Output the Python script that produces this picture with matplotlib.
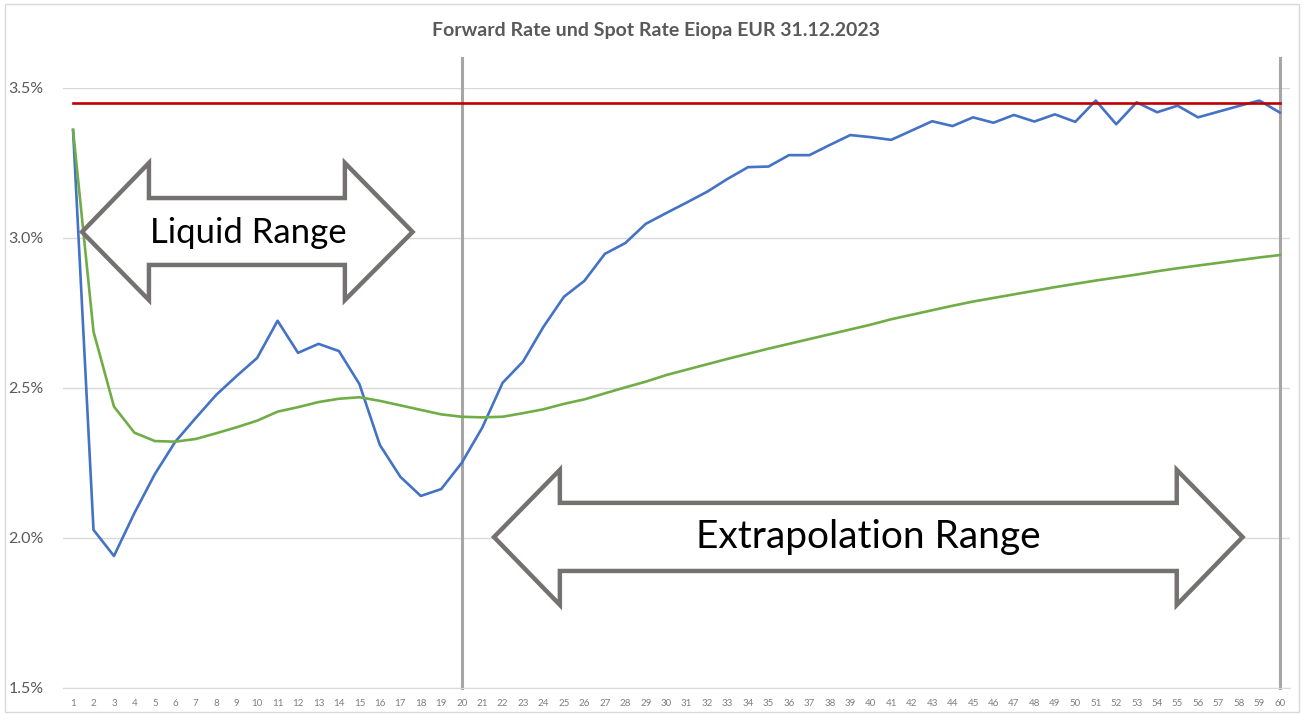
import numpy as np
import matplotlib.pyplot as plt
from matplotlib.patches import Polygon, Rectangle

plt.rcParams['font.family'] = ['Lato', 'DejaVu Sans']

# Laufzeiten 1..60 Jahre
jahre = list(range(1, 61))

# Forward Rate in %
forward = [3.360, 2.027, 1.940, 2.083, 2.213, 2.321, 2.400, 2.477, 2.540, 2.600,
           2.724, 2.617, 2.647, 2.623, 2.513, 2.310, 2.204, 2.140, 2.163, 2.250,
           2.367, 2.517, 2.588, 2.704, 2.804, 2.857, 2.947, 2.983, 3.047, 3.083,
           3.118, 3.154, 3.197, 3.236, 3.238, 3.276, 3.276, 3.310, 3.343, 3.336,
           3.327, 3.358, 3.389, 3.373, 3.402, 3.384, 3.410, 3.388, 3.412, 3.387,
           3.458, 3.379, 3.452, 3.419, 3.441, 3.402, 3.421, 3.440, 3.458, 3.418]

# Spot Rate in %
spot = [3.360, 2.688, 2.438, 2.351, 2.323, 2.321, 2.330, 2.349, 2.369, 2.391,
        2.421, 2.436, 2.453, 2.464, 2.469, 2.457, 2.442, 2.427, 2.412, 2.404,
        2.402, 2.404, 2.416, 2.429, 2.447, 2.462, 2.482, 2.502, 2.521, 2.543,
        2.561, 2.579, 2.597, 2.614, 2.631, 2.647, 2.663, 2.679, 2.695, 2.711,
        2.729, 2.744, 2.759, 2.774, 2.788, 2.800, 2.812, 2.824, 2.836, 2.847,
        2.858, 2.868, 2.878, 2.889, 2.899, 2.908, 2.917, 2.926, 2.935, 2.943]

# Ultimate Forward Rate
ufr = 3.45
llp = 20
konvergenz = 60

y_ticks = [1.5, 2.0, 2.5, 3.0, 3.5]
titel = 'Forward Rate und Spot Rate Eiopa EUR 31.12.2023'

fig = plt.figure(figsize=(13.06, 7.15), dpi=100)
ax = fig.add_axes([0.0481, 0.0378, 0.9397, 0.8392])

ax.plot(jahre, forward, color='#4472C4', lw=1.9, zorder=3)
ax.plot(jahre, spot, color='#70AD47', lw=1.9, zorder=3)
ax.plot([jahre[0], jahre[-1]], [ufr, ufr], color='#C00000', lw=1.9, zorder=3)

# senkrechte Linien bei LLP und Konvergenzpunkt
for xv in [llp, konvergenz]:
    ax.plot([xv, xv], [1.5, 3.6], color='#A6A6A6', lw=2.2, clip_on=False, zorder=2)

ax.set_xlim(0.5, 60.5)
ax.set_ylim(1.5, 3.5)
ax.set_xticks(jahre)
ax.set_xticklabels([str(j) for j in jahre], fontsize=7, color='#7F7F7F')
ax.set_yticks(y_ticks)
ax.set_yticklabels(['%.1f%%' % v for v in y_ticks], fontsize=11.5, color='#595959')
ax.tick_params(length=0, pad=8)
ax.tick_params(axis='y', pad=14)
ax.grid(axis='y', color='#D9D9D9', lw=1)
ax.set_axisbelow(True)
for s in ['top', 'right', 'left']:
    ax.spines[s].set_visible(False)
ax.spines['bottom'].set_color('#D9D9D9')

fig.text(0.502, 0.958, titel, ha='center', va='center', fontsize=14,
         color='#595959', fontweight='bold')


def doppelpfeil(x0, xk0, xk1, x1, ym, ykopf_o, ykopf_u, ys_o, ys_u):
    pts = [(x0, ym), (xk0, ykopf_o), (xk0, ys_o), (xk1, ys_o), (xk1, ykopf_o),
           (x1, ym), (xk1, ykopf_u), (xk1, ys_u), (xk0, ys_u), (xk0, ykopf_u)]
    p = Polygon(pts, closed=True, facecolor='white', edgecolor='#767171',
                lw=3.2, zorder=4, joinstyle='miter')
    ax.add_patch(p)


doppelpfeil(1.44, 4.71, 14.29, 17.60, 3.02, 3.25, 2.793, 3.133, 2.91)
ax.text(9.55, 3.018, 'Liquid Range', ha='center', va='center', fontsize=25,
        color='black', zorder=5)

doppelpfeil(21.58, 24.80, 54.96, 58.18, 2.003, 2.227, 1.777, 2.117, 1.89)
ax.text(39.9, 2.003, 'Extrapolation Range', ha='center', va='center',
        fontsize=28, color='black', zorder=5)

# Rahmen um das Diagramm
fig.patches.append(Rectangle((0.004, 0.004), 0.991, 0.99, transform=fig.transFigure,
                             fill=False, edgecolor='#D9D9D9', lw=1))

fig.savefig('out.png', dpi=100)
